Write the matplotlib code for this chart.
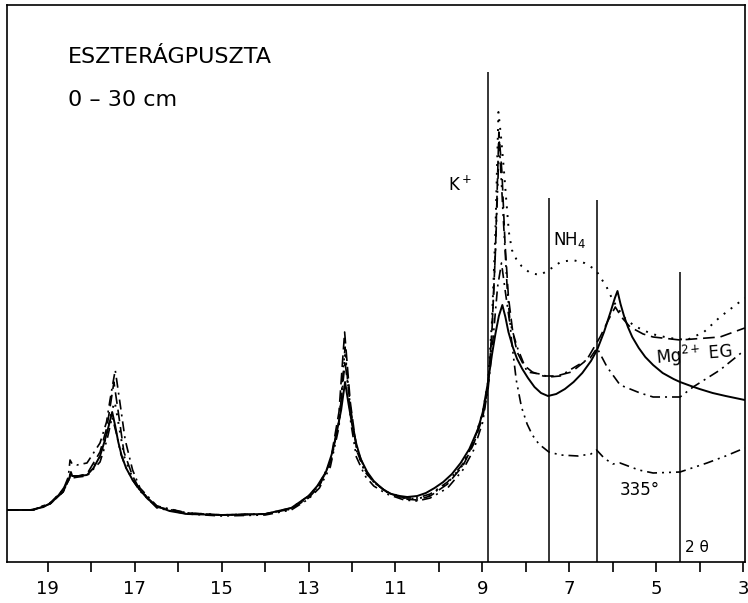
import matplotlib
matplotlib.use("Agg")
import matplotlib.pyplot as plt

plt.rcParams['font.family'] = ['DejaVu Sans']
plt.rcParams['mathtext.default'] = 'regular'

# 2-theta (degrees) and relative intensity (arbitrary units)
mg_x = [19.94, 19.4, 19.1, 18.9, 18.75, 18.6, 18.5, 18.47, 18.44, 18.3, 18.1, 17.95, 17.8, 17.7,
        17.6, 17.52, 17.45, 17.38, 17.3, 17.2, 17.05, 16.9, 16.7, 16.5, 16.2, 15.8, 15.0, 14.0,
        13.4, 13.0, 12.8, 12.6, 12.45, 12.35, 12.25, 12.16, 12.08, 12.0, 11.9, 11.8, 11.65, 11.5,
        11.3, 11.1, 10.9, 10.73, 10.5, 10.3, 10.1, 9.9, 9.7, 9.5, 9.3, 9.1, 8.99, 8.87, 8.78,
        8.7, 8.62, 8.54, 8.47, 8.4, 8.3, 8.2, 8.08, 7.95, 7.8, 7.65, 7.49, 7.3, 7.1, 6.9, 6.7,
        6.5, 6.36, 6.2, 6.05, 5.95, 5.89, 5.82, 5.74, 5.65, 5.55, 5.4, 5.25, 5.07, 4.85, 4.6,
        4.45, 4.2, 4.0, 3.7, 3.4, 2.96]
mg_y = [52, 52, 55, 60, 67, 76, 84, 90, 86, 86, 87, 94, 106, 120,
        136, 150, 136, 120, 106, 94, 82, 73, 63, 56, 51, 48, 47, 48,
        54, 66, 76, 90, 110, 130, 152, 180, 158, 138, 118, 103, 90, 81,
        73, 68, 66, 65, 66, 69, 74, 80, 88, 99, 113, 133, 150, 180, 207,
        228, 246, 257, 245, 230, 215, 203, 193, 184, 175, 169, 166, 168, 173, 180, 189,
        201, 212, 230, 250, 264, 271, 258, 246, 235, 225, 214, 205, 197, 189, 183,
        180, 176, 173, 169, 166, 162]

eg_x = [19.94, 19.34, 18.95, 18.65, 18.52, 18.47, 18.44, 18.3, 18.1, 17.8, 17.64, 17.55, 17.48,
        17.38, 17.25, 17.05, 16.88, 16.49, 15.79, 15.0, 14.0, 13.4, 13.0, 12.75, 12.5, 12.3,
        12.17, 12.04, 11.9, 11.7, 11.5, 11.2, 10.8, 10.5, 10.2, 9.8, 9.45, 9.2, 8.99, 8.87,
        8.78, 8.7, 8.62, 8.55, 8.48, 8.4, 8.3, 8.2, 8.05, 7.85, 7.6, 7.3, 6.95, 6.6, 6.29, 6.1,
        5.94, 5.8, 5.6, 5.3, 5.07, 4.45, 3.53, 2.96]
eg_y = [52, 52, 58, 70, 82, 90, 86, 86, 88, 110, 135, 160, 180,
        150, 110, 86, 72, 55, 49, 47, 48, 53, 64, 76, 100, 150,
        230, 160, 115, 92, 80, 70, 63, 62, 66, 78, 96, 118, 145, 175,
        230, 310, 430, 390, 320, 265, 230, 210, 197, 190, 186, 186, 190, 202, 225, 242,
        255, 245, 235, 228, 225, 222, 225, 234]

k_x = [19.94, 19.34, 18.95, 18.65, 18.52, 18.47, 18.44, 18.3, 18.1, 17.8, 17.64, 17.54, 17.46,
       17.36, 17.24, 17.05, 16.88, 16.49, 15.79, 15.0, 14.0, 13.4, 13.0, 12.75, 12.5, 12.3,
       12.16, 12.03, 11.9, 11.7, 11.5, 11.2, 10.8, 10.5, 10.2, 9.8, 9.45, 9.2, 8.99, 8.87,
       8.78, 8.7, 8.63, 8.57, 8.51, 8.45, 8.39, 8.32, 8.22, 8.1, 7.9, 7.67, 7.47, 7.2, 6.92,
       6.65, 6.46, 6.36, 6.14, 6.0, 5.9, 5.75, 5.5, 5.1, 4.7, 4.29, 3.9, 3.53, 2.96]
k_y = [52, 52, 59, 71, 83, 90, 86, 86, 87, 105, 128, 150, 160,
       135, 105, 84, 72, 55, 49, 47, 48, 53, 65, 77, 98, 140,
       207, 150, 112, 90, 80, 70, 64, 63, 67, 79, 97, 120, 150, 180,
       240, 330, 450, 425, 395, 362, 330, 312, 303, 296, 289, 287, 292, 300, 302,
       299, 294, 290, 275, 262, 255, 245, 236, 228, 224, 222, 230, 245, 264]

nh4_x = [19.94, 19.34, 18.95, 18.65, 18.53, 18.49, 18.44, 18.33, 18.1, 17.8, 17.65, 17.57, 17.45,
         17.34, 17.22, 17.05, 16.88, 16.49, 15.79, 15.0, 14.0, 13.4, 13.0, 12.75, 12.5, 12.3,
         12.16, 12.02, 11.88, 11.7, 11.5, 11.2, 10.8, 10.5, 10.2, 9.8, 9.45, 9.2, 8.99, 8.87,
         8.75, 8.65, 8.56, 8.47, 8.38, 8.2, 7.97, 7.67, 7.47, 7.21, 6.91, 6.52, 6.36, 6.13,
         5.83, 5.37, 5.07, 4.45, 4.15, 3.53, 2.96]
nh4_y = [52, 52, 59, 72, 85, 102, 98, 97, 99, 119, 140, 162, 192,
         159, 122, 92, 74, 56, 49, 47, 48, 54, 66, 78, 100, 140,
         200, 150, 110, 90, 80, 70, 64, 64, 68, 80, 98, 120, 148, 172,
         225, 275, 299, 270, 242, 215, 190, 188, 185, 186, 194, 204, 214, 195,
         177, 169, 165, 165, 175, 192, 212]

h335_x = [19.94, 19.34, 18.95, 18.65, 18.52, 18.47, 18.44, 18.3, 18.1, 17.8, 17.64, 17.52, 17.42,
          17.32, 17.22, 17.05, 16.88, 16.49, 15.79, 15.0, 14.0, 13.4, 13.0, 12.75, 12.5, 12.3,
          12.16, 12.03, 11.9, 11.7, 11.5, 11.2, 10.8, 10.5, 10.2, 9.8, 9.45, 9.2, 8.99, 8.87,
          8.78, 8.7, 8.61, 8.52, 8.43, 8.33, 8.22, 8.1, 7.97, 7.85, 7.7, 7.47, 7.2, 6.8, 6.5,
          6.37, 6.2, 6.0, 5.83, 5.4, 5.07, 4.45, 3.83, 3.4, 2.96]
h335_y = [52, 52, 58, 70, 82, 88, 84, 85, 86, 100, 122, 145, 128,
          108, 96, 82, 71, 54, 48, 46, 47, 52, 63, 74, 95, 135,
          215, 140, 105, 86, 76, 68, 62, 61, 64, 74, 92, 112, 140, 175,
          230, 310, 420, 345, 275, 222, 182, 155, 138, 127, 118, 110, 107, 106, 108,
          112, 104, 98, 99, 92, 89, 90, 99, 106, 114]

# reference lines (2-theta position, height)
ref_pos = [8.88, 7.47, 6.37, 4.45]
ref_top = [490, 364, 362, 290]

fig = plt.figure(figsize=(7.48, 6.03), dpi=100)
ax = fig.add_axes([0.0094, 0.068, 0.9866, 0.9237])

ax.plot(mg_x, mg_y, color='black', lw=1.4)
ax.plot(eg_x, eg_y, color='black', lw=1.2, dashes=(7, 3.5))
ax.plot(k_x, k_y, color='black', lw=1.4, dashes=(1, 3.5))
ax.plot(nh4_x, nh4_y, color='black', lw=1.2, dashes=(6, 3, 1.2, 3))
ax.plot(h335_x, h335_y, color='black', lw=1.2, dashes=(6, 3, 1.2, 3, 1.2, 3))

ax.vlines(ref_pos, 0, ref_top, color='black', lw=1.1)

ax.set_xlim(19.94, 2.955)
ax.set_ylim(0, 557)
ax.set_yticks([])
ax.set_xticks([19, 17, 15, 13, 11, 9, 7, 5, 3])
ax.set_xticks(list(range(4, 19)), minor=True)
ax.tick_params(axis='x', which='both', direction='out', length=7, width=1.2,
               labelsize=13, pad=6)
for s in ax.spines.values():
    s.set_linewidth(1.2)

ax.text(18.53, 505, 'ESZTERÁGPUSZTA', fontsize=16, va='center', ha='left')
ax.text(18.53, 462, '0 – 30 cm', fontsize=16, va='center', ha='left')
ax.text(9.25, 377, 'K$^+$', fontsize=12, va='center', ha='right')
ax.text(7.37, 322, 'NH$_4$', fontsize=12, va='center', ha='left')
ax.text(5.03, 207, 'Mg$^{2+}$ EG', fontsize=12, va='center', ha='left', rotation=5)
ax.text(5.83, 72, '335°', fontsize=12, va='center', ha='left')
ax.text(4.34, 14, '2 θ', fontsize=11, va='center', ha='left')

fig.savefig('out.png', dpi=100)
